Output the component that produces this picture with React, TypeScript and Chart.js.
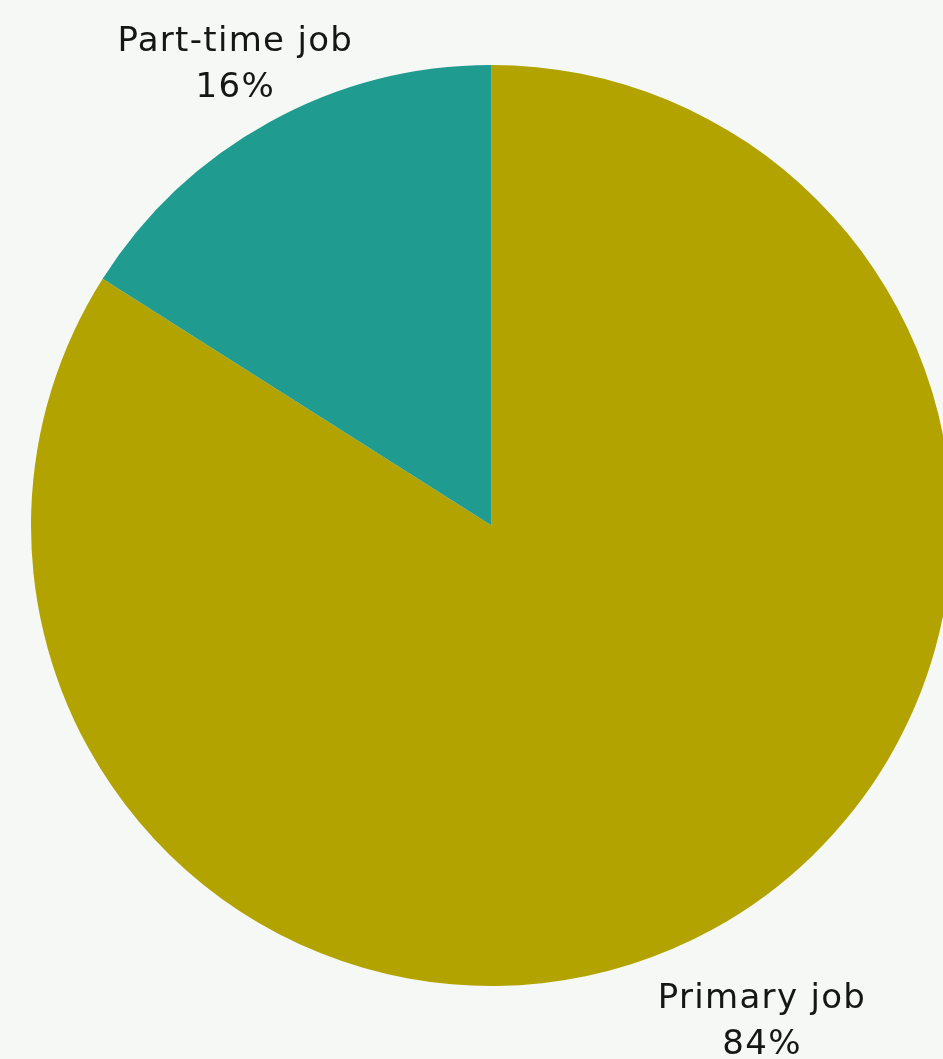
import React, { useEffect, useRef } from "react";
import { Chart, registerables } from "chart.js";

Chart.register(...registerables);

const categories = ["Primary job", "Part-time job"];
const values = [84, 16];
const valueLabels = ["84%", "16%"];
const colors = ["#b2a300", "#1f9b90"];
// label anchor offsets relative to the arc's outer edge at mid-angle
const labelOffsets = [
  [48, 102],
  [-35, -48],
];

const BG = "#f6f8f5";

const labelPlugin = {
  id: "sliceLabels",
  afterDraw(chart: any) {
    const ctx = chart.ctx;
    const meta = chart.getDatasetMeta(0);
    ctx.save();
    ctx.font = "34px 'DejaVu Sans'";
    try {
      (ctx as any).letterSpacing = "1.3px";
    } catch (e) {}
    ctx.fillStyle = "#161616";
    ctx.textAlign = "center";
    ctx.textBaseline = "alphabetic";
    meta.data.forEach((arc: any, i: number) => {
      const p = arc.getProps(["x", "y", "startAngle", "endAngle", "outerRadius"], true);
      const mid = (p.startAngle + p.endAngle) / 2;
      const ax = p.x + Math.cos(mid) * p.outerRadius + labelOffsets[i][0];
      const ay = p.y + Math.sin(mid) * p.outerRadius + labelOffsets[i][1];
      ctx.fillText(categories[i], ax + 0.65, ay - 23);
      ctx.fillText(valueLabels[i], ax + 0.65, ay + 23);
    });
    ctx.restore();
  },
};

export default function App() {
  const ref = useRef<HTMLCanvasElement>(null);
  useEffect(() => {
    document.body.style.margin = "0";
    document.body.style.background = BG;
    const chart = new Chart(ref.current!, {
      type: "pie",
      data: {
        labels: categories,
        datasets: [
          {
            data: values,
            backgroundColor: colors,
            borderWidth: 0,
          },
        ],
      },
      options: {
        animation: false,
        responsive: false,
        maintainAspectRatio: false,
        layout: { padding: { left: 0, right: 0, top: 65, bottom: 73 } },
        plugins: {
          legend: { display: false },
          tooltip: { enabled: false },
        },
      },
      plugins: [labelPlugin],
    });
    return () => chart.destroy();
  }, []);
  return (
    <div
      style={{
        position: "fixed",
        left: 0,
        top: 0,
        width: 943,
        height: 1059,
        overflow: "hidden",
        background: BG,
      }}
    >
      <canvas ref={ref} width={983} height={1059} style={{ display: "block" }} />
    </div>
  );
}
